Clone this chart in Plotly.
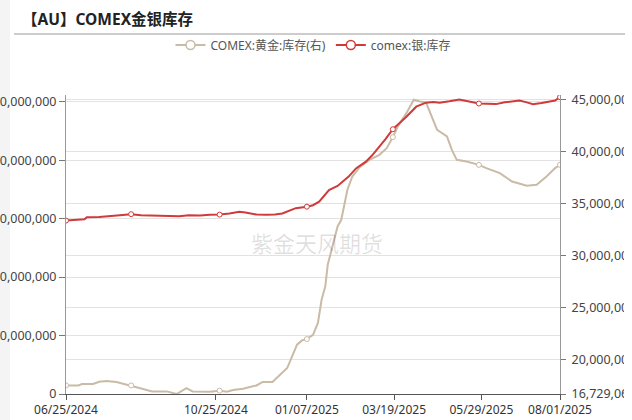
import plotly.graph_objects as go

# ---- data (values in ounces) ----
silver_dates = ["2024-06-25","2024-06-30","2024-07-06","2024-07-10","2024-07-12","2024-07-22","2024-08-03",
    "2024-08-10","2024-08-17","2024-08-25","2024-09-05","2024-09-15","2024-09-25","2024-10-03","2024-10-12",
    "2024-10-20","2024-10-28","2024-11-05","2024-11-13","2024-11-18","2024-11-27","2024-12-05","2024-12-12",
    "2024-12-18","2024-12-24","2024-12-29","2025-01-07","2025-01-12","2025-01-17","2025-01-21","2025-01-25",
    "2025-02-01","2025-02-05","2025-02-10","2025-02-16","2025-02-24","2025-03-01","2025-03-07","2025-03-12",
    "2025-03-18","2025-03-24","2025-03-29","2025-04-06","2025-04-14","2025-04-20","2025-04-25","2025-05-03",
    "2025-05-11","2025-05-18","2025-05-27","2025-06-03","2025-06-10","2025-06-17","2025-06-23","2025-06-29",
    "2025-07-05","2025-07-10","2025-07-17","2025-07-24","2025-07-28","2025-08-01"]
silver_millions = [296.7,297.5,298.5,299.0,302.6,303.0,305.0,
    306.0,307.7,306.0,305.5,304.8,304.0,306.0,305.5,
    306.5,307.0,309.0,312.0,310.5,307.0,306.5,307.0,
    309.0,314.0,318.0,320.5,323.0,329.0,340.0,349.0,
    356.0,363.0,372.0,386.0,397.6,408.0,423.0,436.0,
    453.0,464.0,474.5,491.6,498.5,499.5,498.5,501.0,
    504.0,501.0,497.0,496.5,496.0,499.0,501.0,502.0,
    499.0,496.0,498.0,500.0,502.0,508.0]

gold_dates = ["2024-06-25","2024-07-05","2024-07-08","2024-07-17","2024-07-22","2024-07-28","2024-08-05",
    "2024-08-17","2024-08-26","2024-09-03","2024-09-15","2024-09-23","2024-09-29","2024-10-01","2024-10-06",
    "2024-10-20","2024-10-28","2024-11-03","2024-11-08","2024-11-16","2024-11-27","2024-12-02","2024-12-10",
    "2024-12-16","2024-12-22","2024-12-26","2024-12-30","2025-01-03","2025-01-07","2025-01-12","2025-01-16",
    "2025-01-19","2025-01-22","2025-01-24","2025-01-28","2025-02-01","2025-02-04","2025-02-07","2025-02-09",
    "2025-02-13","2025-02-19","2025-02-27","2025-03-07","2025-03-13","2025-03-18","2025-03-22","2025-03-29",
    "2025-04-04","2025-04-09","2025-04-14","2025-04-18","2025-04-23","2025-05-01","2025-05-05","2025-05-09",
    "2025-05-17","2025-05-27","2025-06-02","2025-06-13","2025-06-23","2025-07-05","2025-07-13","2025-07-21",
    "2025-07-28","2025-08-01"]
gold_millions = [17.55,17.55,17.69,17.69,17.91,17.98,17.88,
    17.55,17.24,16.98,16.98,16.729063,17.10,17.30,16.98,
    16.95,17.05,16.95,17.12,17.24,17.55,17.88,17.88,
    18.58,19.22,20.33,21.46,21.87,22.00,22.41,23.54,
    25.77,27.05,29.13,30.88,32.80,33.44,35.04,36.32,
    37.59,38.49,39.19,39.67,40.31,41.37,42.39,43.67,
    44.95,44.78,44.69,43.50,42.07,41.43,40.15,39.19,
    39.03,38.71,38.40,37.92,37.11,36.70,36.80,37.59,
    38.40,38.71]

marker_dates = ["2024-06-25","2024-08-17","2024-10-28","2025-01-07","2025-03-18","2025-05-27","2025-08-01"]
x_tick_dates = ["2024-06-25","2024-10-25","2025-01-07","2025-03-19","2025-05-29","2025-08-01"]
left_ticks = [0, 100e6, 200e6, 300e6, 400e6, 500e6]
right_ticks = [16729063, 20e6, 25e6, 30e6, 35e6, 40e6, 45e6]

gold_name = "COMEX:黄金:库存(右)"
silver_name = "comex:银:库存"
title_text = "【AU】COMEX金银库存"
watermark = "紫金天风期货"

GOLD = "#c9bba6"
SILVER = "#d13a3a"
FONT = "Noto Sans, Noto Sans CJK SC"

silver_vals = [v * 1e6 for v in silver_millions]
gold_vals = [v * 1e6 for v in gold_millions]

fig = go.Figure()

# gold on primary (right side), silver on overlaying axis (left side) so silver draws on top
fig.add_trace(go.Scatter(x=gold_dates, y=gold_vals, mode="lines", line=dict(color=GOLD, width=2),
                         yaxis="y", showlegend=False, hoverinfo="skip"))
gm = [(d, v) for d, v in zip(gold_dates, gold_vals) if d in marker_dates]
fig.add_trace(go.Scatter(x=[d for d, _ in gm], y=[v for _, v in gm], mode="markers",
                         marker=dict(size=5, color="white", line=dict(color=GOLD, width=1)),
                         yaxis="y", showlegend=False, hoverinfo="skip"))
fig.add_trace(go.Scatter(x=silver_dates, y=silver_vals, mode="lines", line=dict(color=SILVER, width=2),
                         yaxis="y2", showlegend=False, hoverinfo="skip"))
sm = [(d, v) for d, v in zip(silver_dates, silver_vals) if d in marker_dates]
fig.add_trace(go.Scatter(x=[d for d, _ in sm], y=[v for _, v in sm], mode="markers",
                         marker=dict(size=5, color="white", line=dict(color=SILVER, width=1)),
                         yaxis="y2", showlegend=False, hoverinfo="skip"))

# legend entries
fig.add_trace(go.Scatter(x=[None], y=[None], mode="lines+markers", name=gold_name, yaxis="y",
                         line=dict(color=GOLD, width=2),
                         marker=dict(size=9, color="white", line=dict(color=GOLD, width=1.5))))
fig.add_trace(go.Scatter(x=[None], y=[None], mode="lines+markers", name=silver_name, yaxis="y2",
                         line=dict(color=SILVER, width=2),
                         marker=dict(size=9, color="white", line=dict(color=SILVER, width=1.5))))

L, R, T, B = 66, 560, 95, 394
W, H = 632, 420
def px(x): return (x - L) / (R - L)
def py(y): return (B - y) / (B - T)

fig.update_layout(
    width=W, height=H,
    margin=dict(l=L, r=W - R, t=T, b=H - B, autoexpand=False),
    paper_bgcolor="white", plot_bgcolor="white",
    font=dict(family=FONT, size=12, color="#444"),
    title=dict(text="<b>" + title_text + "</b>", x=22 / W, xanchor="left", xref="container",
               y=1 - 20 / H, yanchor="middle", yref="container",
               font=dict(size=15.5, color="#222", family=FONT)),
    legend=dict(orientation="h", x=0.5, xanchor="center", y=py(45), yanchor="middle",
                font=dict(size=12, color="#555"), bgcolor="rgba(0,0,0,0)", itemwidth=30,
                traceorder="normal"),
    xaxis=dict(type="date", range=["2024-06-25", "2025-08-01"], tickvals=x_tick_dates,
               tickformat="%m/%d/%Y", showgrid=False, showline=True, linecolor="#555", linewidth=1,
               ticks="outside", ticklen=5, tickcolor="#555", tickfont=dict(size=12, color="#333"),
               zeroline=False),
    yaxis=dict(side="right", range=[16729063, 45.41e6], tickvals=right_ticks, tickformat=",",
               showgrid=True, gridcolor="#e2e2e2", showline=True, linecolor="#999", ticks="outside",
               ticklen=5, tickcolor="#777", tickfont=dict(size=12.5, color="#444"), zeroline=False,
               ticklabelstandoff=3),
    yaxis2=dict(side="left", overlaying="y", range=[0, 511.6e6], tickvals=left_ticks, tickformat=",",
                showgrid=True, gridcolor="#e2e2e2", showline=True, linecolor="#999", ticks="outside",
                ticklen=6, tickcolor="#777", tickfont=dict(size=12.5, color="#444"), zeroline=False),
    shapes=[
        dict(type="line", xref="paper", yref="paper", x0=px(14), x1=px(625), y0=py(34), y1=py(34),
             line=dict(color="#9a9a9a", width=1)),
        dict(type="rect", xref="paper", yref="paper", x0=px(0), x1=px(10), y0=py(420), y1=py(0),
             fillcolor="#f4f4f4", line=dict(width=0), layer="below"),
        dict(type="rect", xref="paper", yref="paper", x0=px(624), x1=px(640), y0=py(420), y1=py(60),
             fillcolor="white", line=dict(width=0), layer="above"),
    ],
    annotations=[
        dict(text=watermark, xref="paper", yref="paper", x=px(317), y=py(243), showarrow=False,
             font=dict(size=22, color="rgba(0,0,0,0.13)", family=FONT)),
    ],
)

fig.write_html("out.html", config={"displayModeBar": False},
               post_script="document.body.style.margin='0';document.body.style.overflow='hidden';")
